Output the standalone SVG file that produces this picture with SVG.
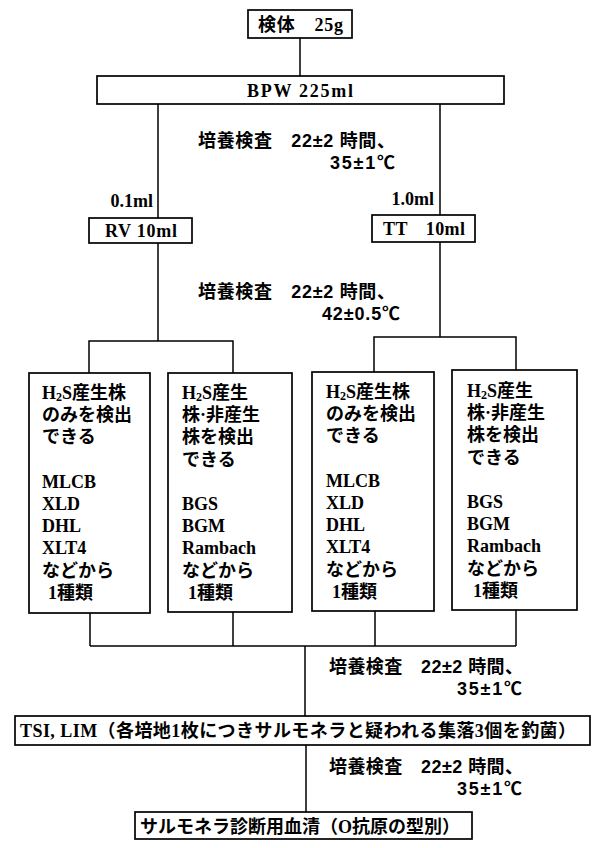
<svg xmlns="http://www.w3.org/2000/svg" width="594" height="848" viewBox="0 0 594 848">
<style>
.box{fill:#fff;stroke:#000;stroke-width:1.7}
.ln{fill:none;stroke:#000;stroke-width:1.5}
text{fill:#000;font-weight:bold}
.t{font-family:"Liberation Serif","Noto Sans CJK JP",serif;font-size:18px}
.jp{font-family:"Liberation Sans","Noto Sans CJK JP",sans-serif;font-size:18px}
.sub{font-size:12px}
</style>
<rect width="594" height="848" fill="#fff"/>
<g id="connectors">
<path class="ln" d="M300 38V76 M158 104V218 M440 104V215 M158 243V341 M440 242V337 M89 373V341H233V373 M374 372V337H516V370 M90 613V646 M233 612V646 M375 611V646 M516 610V646 M90 646H516 M305 646V716 M306 745V812"/>
</g>
<g id="sample">
<rect class="box" x="248" y="10" width="104" height="28"/>
<text class="t" x="258" y="31" textLength="85" lengthAdjust="spacing">検体　25g</text>
</g>
<g id="bpw">
<rect class="box" x="97" y="76" width="407" height="28"/>
<text class="t" x="247" y="97" font-size="19" textLength="106" lengthAdjust="spacing">BPW  225ml</text>
</g>
<g id="label1">
<text class="jp"><tspan x="198" y="147" textLength="197" lengthAdjust="spacing">培養検査　22±2 時間、</tspan><tspan x="330" y="169" textLength="65" lengthAdjust="spacing">35±1℃</tspan></text>
</g>
<g id="vol-rv"><text class="t" x="153" y="207" text-anchor="end">0.1ml</text></g>
<g id="vol-tt"><text class="t" x="434" y="205" text-anchor="end">1.0ml</text></g>
<g id="rv">
<rect class="box" x="89" y="218" width="103" height="25"/>
<text class="t" x="105" y="237" textLength="72" lengthAdjust="spacing">RV 10ml</text>
</g>
<g id="tt">
<rect class="box" x="372" y="215" width="103" height="27"/>
<text class="t" x="383" y="235" textLength="82" lengthAdjust="spacing">TT　10ml</text>
</g>
<g id="label2">
<text class="jp"><tspan x="198" y="298" textLength="197" lengthAdjust="spacing">培養検査　22±2 時間、</tspan><tspan x="322" y="320" textLength="78" lengthAdjust="spacing">42±0.5℃</tspan></text>
</g>
<g id="box1">
<rect class="box" x="29" y="373" width="121" height="240"/>
<text class="t"><tspan x="42" y="399">H</tspan><tspan class="sub" dy="2">2</tspan><tspan dy="-2">S産生株</tspan><tspan x="42" y="421">のみを検出</tspan><tspan x="42" y="443">できる</tspan><tspan x="42" y="488">MLCB</tspan><tspan x="42" y="510">XLD</tspan><tspan x="42" y="532">DHL</tspan><tspan x="42" y="554">XLT4</tspan><tspan x="42" y="577">などから</tspan><tspan x="48" y="599">1種類</tspan></text>
</g>
<g id="box2">
<rect class="box" x="168" y="373" width="124" height="239"/>
<text class="t"><tspan x="182" y="399">H</tspan><tspan class="sub" dy="2">2</tspan><tspan dy="-2">S産生</tspan><tspan x="182" y="421">株·非産生</tspan><tspan x="182" y="443">株を検出</tspan><tspan x="182" y="466">できる</tspan><tspan x="182" y="510">BGS</tspan><tspan x="182" y="532">BGM</tspan><tspan x="182" y="554">Rambach</tspan><tspan x="182" y="577">などから</tspan><tspan x="188" y="599">1種類</tspan></text>
</g>
<g id="box3">
<rect class="box" x="312" y="372" width="122" height="239"/>
<text class="t"><tspan x="326" y="398">H</tspan><tspan class="sub" dy="2">2</tspan><tspan dy="-2">S産生株</tspan><tspan x="326" y="420">のみを検出</tspan><tspan x="326" y="442">できる</tspan><tspan x="326" y="487">MLCB</tspan><tspan x="326" y="509">XLD</tspan><tspan x="326" y="531">DHL</tspan><tspan x="326" y="553">XLT4</tspan><tspan x="326" y="576">などから</tspan><tspan x="332" y="598">1種類</tspan></text>
</g>
<g id="box4">
<rect class="box" x="452" y="370" width="125" height="240"/>
<text class="t"><tspan x="467" y="397">H</tspan><tspan class="sub" dy="2">2</tspan><tspan dy="-2">S産生</tspan><tspan x="467" y="419">株·非産生</tspan><tspan x="467" y="441">株を検出</tspan><tspan x="467" y="464">できる</tspan><tspan x="467" y="508">BGS</tspan><tspan x="467" y="530">BGM</tspan><tspan x="467" y="552">Rambach</tspan><tspan x="467" y="575">などから</tspan><tspan x="473" y="597">1種類</tspan></text>
</g>
<g id="label3">
<text class="jp"><tspan x="329" y="673" textLength="194" lengthAdjust="spacing">培養検査　22±2 時間、</tspan><tspan x="457" y="695" textLength="65" lengthAdjust="spacing">35±1℃</tspan></text>
</g>
<g id="tsi">
<rect class="box" x="15" y="716" width="575" height="29"/>
<text class="t" x="20" y="737" textLength="556" lengthAdjust="spacing">TSI, LIM（各培地1枚につきサルモネラと疑われる集落3個を釣菌）</text>
</g>
<g id="label4">
<text class="jp"><tspan x="329" y="773" textLength="194" lengthAdjust="spacing">培養検査　22±2 時間、</tspan><tspan x="457" y="795" textLength="65" lengthAdjust="spacing">35±1℃</tspan></text>
</g>
<g id="serum">
<rect class="box" x="135" y="812" width="337" height="27"/>
<text class="t" x="140" y="833" textLength="320" lengthAdjust="spacing">サルモネラ診断用血清（O抗原の型別）</text>
</g>
</svg>
